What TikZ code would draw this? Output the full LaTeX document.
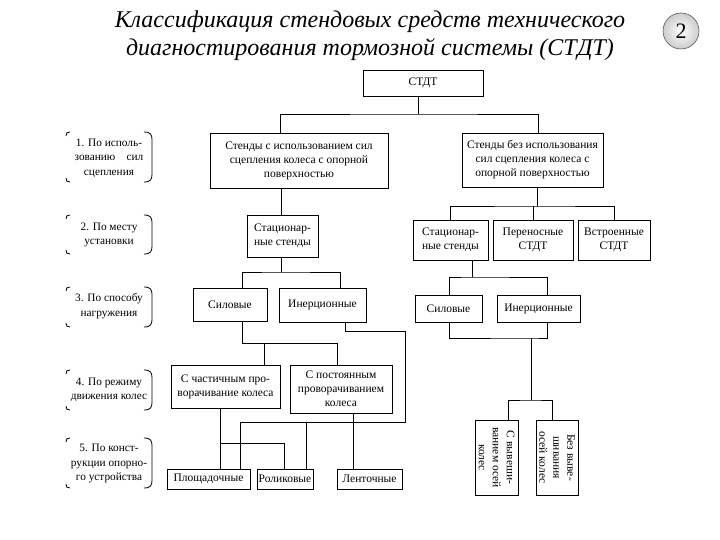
\documentclass[tikz,border=0pt]{standalone}
\usepackage{fontspec}
\setmainfont{Liberation Serif}
\begin{document}
\begin{tikzpicture}[x=1pt,y=-1pt,
  box/.style={draw, line width=0.7pt, inner sep=1pt, align=center, font=\fontsize{11.5}{14}\selectfont},
  crit/.style={align=center, font=\fontsize{11.3}{14.5}\selectfont},
  conn/.style={line width=0.7pt},
  brk/.style={line width=0.8pt}]
\useasboundingbox (0,0) rectangle (720,540);
% title
\node[font=\itshape\fontsize{24}{28}\selectfont, align=center] (title) at (370,36)
  {Классификация стендовых средств технического\\диагностирования тормозной системы (СТДТ)};
\node[circle, draw=gray!70!black, line width=0.6pt, minimum size=36pt, inner sep=0pt,
  inner color=white, outer color=gray!40, font=\fontsize{22}{24}\selectfont] (num) at (681,31) {2};
% criteria
\node[crit] (c1) at (109,158) {1. По исполь-\\зованию\quad сил\\сцепления};
\node[crit] (c2) at (109,235) {2. По месту\\установки};
\node[crit] (c3) at (109,306) {3. По способу\\нагружения};
\node[crit] (c4) at (109,390) {4. По режиму\\движения колес};
\node[crit] (c5) at (109,464) {5. По конст-\\рукции опорно-\\го устройства};
\foreach \t/\b in {132/182, 215/254, 287/327, 370/410, 438/488} {
  \draw[brk] (144,\t) .. controls (151,\t) and (152,\t+3) .. (152,\t+8) -- (152,\b-8)
     .. controls (152,\b-3) and (151,\b) .. (144,\b);
  \draw[brk] (70,\t) .. controls (67,\t) and (66,\t+1) .. (66,\t+4);
  \draw[brk] (70,\b) .. controls (67,\b) and (66,\b-1) .. (66,\b-4);
}
% boxes
\node[box, minimum width=120pt, minimum height=26pt] (stdt) at (423,83) {СТДТ};
\node[box, minimum width=178pt, minimum height=55pt] (l1a) at (299,160.5)
  {Стенды с использованием сил\\сцепления колеса с опорной\\поверхностью};
\node[box, minimum width=141pt, minimum height=54pt] (l1b) at (532.5,160)
  {Стенды без использования\\сил сцепления колеса с\\опорной поверхностью};
\node[box, minimum width=71pt, minimum height=42pt] (l2a) at (282.5,236) {Стационар-\\ные стенды};
\node[box, minimum width=75pt, minimum height=40pt] (l2b) at (450.5,240) {Стационар-\\ные стенды};
\node[box, minimum width=80pt, minimum height=40pt] (l2c) at (533,240) {Переносные\\СТДТ};
\node[box, minimum width=72pt, minimum height=40pt] (l2d) at (614,240) {Встроенные\\СТДТ};
\node[box, minimum width=74pt, minimum height=33pt] (l3a) at (230,304.5) {Силовые};
\node[box, minimum width=87pt, minimum height=34pt] (l3b) at (322.5,305) {Инерционные};
\node[box, minimum width=67pt, minimum height=27pt] (l3c) at (448.5,308.5) {Силовые};
\node[box, minimum width=83pt, minimum height=27pt] (l3d) at (538.5,308.5) {Инерционные};
\node[box, minimum width=109pt, minimum height=43pt] (l4a) at (225.5,386.5) {С частичным про-\\ворачивание колеса};
\node[box, minimum width=102pt, minimum height=48pt] (l4b) at (341,389) {С постоянным\\проворачиванием\\колеса};
\node[box, minimum width=83pt, minimum height=20pt] (l5a) at (208.5,479) {Площадочные};
\node[box, minimum width=56pt, minimum height=20pt] (l5b) at (285,479) {Роликовые};
\node[box, minimum width=65pt, minimum height=20pt] (l5c) at (369.5,479) {Ленточные};
\node[box, rotate=-90, minimum width=75pt, minimum height=43pt] (r5a) at (496.5,457.5) {С вывеши-\\ванием осей\\колес};
\node[box, rotate=-90, minimum width=75pt, minimum height=42pt] (r5b) at (557,457.5) {Без выве-\\шивания\\осей колес};
% connectors
\coordinate (ja) at (418,114);
\draw[conn] (stdt.south -| ja) -- (ja);
\draw[conn] (l1a.north -| 280,0) |- (ja) -| (l1b.north -| 538,0);
\draw[conn] (l1a.south -| 281,0) -- (l2a.north -| 281,0);
\coordinate (jc) at (537,206);
\draw[conn] (l1b.south -| jc) -- (jc);
\draw[conn] (l2b.north) |- (jc) -| (l2d.north);
\draw[conn] (l2c.north) -- (l2c.north |- jc);
\coordinate (jd) at (281,272);
\draw[conn] (l2a.south -| jd) -- (jd);
\draw[conn] (l3a.north -| 242,0) |- (jd) -| (l3b.north -| 340,0);
\coordinate (je) at (242,343);
\draw[conn] (l3a.south -| je) -- (je) -- (337,343) -- (l4b.north -| 337,0);
\draw[conn] (l4a.north -| 264,0) -- (264,343);
\coordinate (jf) at (306,422);
\draw[conn] (l3b.south -| 345,0) -- (345,331) -- (405,331) -- (405,422) -- (240,422) -- (l5a.north -| 240,0);
\draw[conn] (l5b.north -| jf) -- (jf);
\coordinate (jg) at (220,443);
\draw[conn] (l4a.south -| jg) -- (l5a.north -| jg);
\draw[conn] (jg) -- (284,443) -- (l5b.north -| 284,0);
\draw[conn] (l4b.south -| 353,0) -- (l5c.north -| 353,0);
\coordinate (ji) at (472,277);
\draw[conn] (l2b.south -| ji) -- (ji);
\draw[conn] (l3c.north -| 449,0) |- (ji) -| (l3d.north -| 547,0);
\coordinate (jj) at (531,338);
\draw[conn] (l3c.south -| 449,0) |- (jj) -| (l3d.south -| 547,0);
\coordinate (jk) at (531,400);
\draw[conn] (jj) -- (jk);
\draw[conn] (r5a.west -| 508,0) |- (jk) -| (r5b.west -| 552,0);
\end{tikzpicture}
\end{document}
